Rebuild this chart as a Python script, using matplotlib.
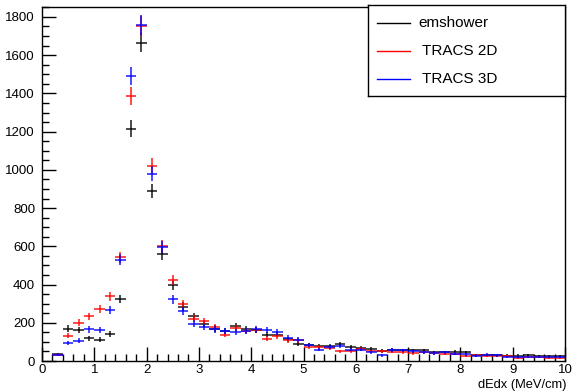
import numpy as np
import matplotlib
matplotlib.use("Agg")
import matplotlib.pyplot as plt
from matplotlib.ticker import MultipleLocator

plt.rcParams['font.family'] = ['Liberation Sans', 'DejaVu Sans']

bin_width = 0.2
bin_centers = [0.3, 0.5, 0.7, 0.9, 1.1, 1.3, 1.5, 1.7, 1.9, 2.1, 2.3, 2.5, 2.7, 2.9,
               3.1, 3.3, 3.5, 3.7, 3.9, 4.1, 4.3, 4.5, 4.7, 4.9, 5.1, 5.3, 5.5, 5.7, 5.9,
               6.1, 6.3, 6.5, 6.7, 6.9, 7.1, 7.3, 7.5, 7.7, 7.9, 8.1, 8.3, 8.5, 8.7, 8.9,
               9.1, 9.3, 9.5, 9.7, 9.9]

emshower = [35, 170, 160, 119, 112, 142, 325, 1215, 1665, 890, 560, 395, 285, 234,
            195, 170, 159, 182, 165, 163, 138, 138, 113, 90, 83, 77, 77, 90, 72,
            68, 62, 53, 60, 55, 55, 55, 45, 45, 48, 45, 30, 30, 30, 28,
            28, 30, 25, 25, 25]

tracs2d = [33, 133, 200, 234, 274, 339, 542, 1385, 1755, 1020, 600, 425, 297, 222,
           208, 179, 138, 173, 156, 161, 117, 130, 109, 109, 74, 74, 67, 51, 51,
           65, 51, 50, 48, 45, 40, 45, 40, 38, 38, 25, 30, 25, 28, 25,
           18, 20, 22, 18, 15]

tracs3d = [33, 95, 105, 165, 160, 269, 530, 1490, 1760, 980, 595, 322, 262, 196,
           179, 165, 156, 150, 156, 165, 161, 152, 121, 112, 83, 60, 72, 77, 60,
           60, 46, 30, 58, 55, 50, 45, 42, 45, 38, 35, 28, 33, 30, 22,
           22, 20, 22, 20, 20]

series_names = ["emshower", "TRACS 2D", "TRACS 3D"]
series_colors = ["black", "red", "blue"]

fig = plt.figure(figsize=(5.75, 3.92), dpi=100)
ax = fig.add_axes([42/575, 1-361/392, (565-42)/575, (361-7)/392])

x = np.array(bin_centers)
for vals, name, col in zip([emshower, tracs2d, tracs3d], series_names, series_colors):
    v = np.array(vals, dtype=float)
    err = 1.25 * np.sqrt(v)
    ax.errorbar(x, v, xerr=bin_width/2, yerr=err, fmt='none', ecolor=col,
                elinewidth=1.1, capsize=0, alpha=0.9)

ax.set_xlim(0, 10)
ax.set_ylim(0, 1852)
ax.xaxis.set_major_locator(MultipleLocator(1))
ax.xaxis.set_minor_locator(MultipleLocator(0.2))
ax.yaxis.set_major_locator(MultipleLocator(200))
ax.yaxis.set_minor_locator(MultipleLocator(50))
ax.tick_params(axis='both', which='major', direction='in', length=10, width=1,
               labelsize=9.5, top=False, right=False)
ax.tick_params(axis='both', which='minor', direction='in', length=5, width=1,
               top=False, right=False)
ax.tick_params(axis='y', which='major', pad=5)
ax.tick_params(axis='x', which='major', pad=2.5)
for s in ax.spines.values():
    s.set_linewidth(1.0)

fig.text(566/575, 1-385/392, "dEdx (MeV/cm)", ha='right', va='center', fontsize=9.3)

# legend box
lax = fig.add_axes([368/575, 1-96/392, (565-368)/575, (96-5)/392])
lax.set_xlim(0, 1); lax.set_ylim(0, 1)
lax.set_xticks([]); lax.set_yticks([])
for s in lax.spines.values():
    s.set_linewidth(1.0)
lax.patch.set_facecolor('white')
ypos = [1-(23-5)/91, 1-(51-5)/91, 1-(79-5)/91]
labels = ["emshower", " TRACS 2D", " TRACS 3D"]
for yy, lab, col in zip(ypos, labels, series_colors):
    lax.plot([(377-368)/197, (410-368)/197], [yy, yy], color=col, lw=1.0)
    lax.text((418-368)/197, yy, lab, ha='left', va='center', fontsize=11)

fig.savefig("out.png", dpi=100)
